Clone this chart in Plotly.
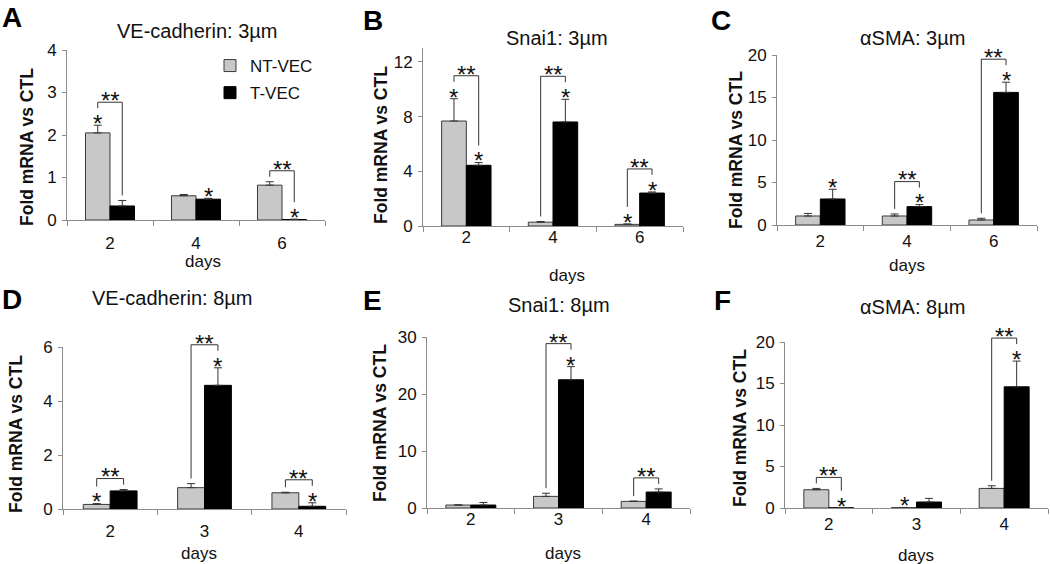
import plotly.graph_objects as go

W, H = 1050, 564
FONT = "Liberation Sans, Arial, sans-serif"

# ---------------- data ----------------
series_names = ["NT-VEC", "T-VEC"]
days_3um = ["2", "4", "6"]
days_8um = ["2", "3", "4"]

# A: VE-cadherin 3um
vecad3_nt = [2.05, 0.57, 0.82]
vecad3_nt_err = [0.18, 0.03, 0.08]
vecad3_t = [0.33, 0.49, 0.01]
vecad3_t_err = [0.13, 0.02, 0.01]
vecad3_star_nt = [1, 0, 0]
vecad3_star_t = [0, 1, 1]
vecad3_pair = [1, 0, 1]

# B: Snai1 3um
snai3_nt = [7.68, 0.28, 0.12]
snai3_nt_err = [1.63, 0.05, 0.03]
snai3_t = [4.44, 7.61, 2.41]
snai3_t_err = [0.20, 1.66, 0.08]
snai3_star_nt = [1, 0, 1]
snai3_star_t = [1, 1, 1]
snai3_pair = [1, 1, 1]

# C: aSMA 3um
asma3_nt = [1.06, 1.06, 0.59]
asma3_nt_err = [0.30, 0.24, 0.20]
asma3_t = [3.06, 2.16, 15.6]
asma3_t_err = [1.14, 0.24, 1.2]
asma3_star_nt = [0, 0, 0]
asma3_star_t = [1, 1, 1]
asma3_pair = [0, 1, 1]

# D: VE-cadherin 8um
vecad8_nt = [0.17, 0.79, 0.60]
vecad8_nt_err = [0.03, 0.15, 0.02]
vecad8_t = [0.67, 4.58, 0.10]
vecad8_t_err = [0.05, 0.65, 0.13]
vecad8_star_nt = [1, 0, 0]
vecad8_star_t = [0, 1, 1]
vecad8_pair = [1, 1, 1]

# E: Snai1 8um
snai8_nt = [0.52, 2.04, 1.16]
snai8_nt_err = [0.03, 0.55, 0.05]
snai8_t = [0.52, 22.5, 2.8]
snai8_t_err = [0.45, 2.3, 0.55]
snai8_star_nt = [0, 0, 0]
snai8_star_t = [0, 1, 0]
snai8_pair = [0, 1, 1]

# F: aSMA 8um
asma8_nt = [2.2, 0.05, 2.36]
asma8_nt_err = [0.16, 0.02, 0.32]
asma8_t = [0.02, 0.72, 14.6]
asma8_t_err = [0.01, 0.44, 3.1]
asma8_star_nt = [0, 1, 0]
asma8_star_t = [1, 0, 1]
asma8_pair = [1, 0, 1]

# ---------------- panel layout (pixels) ----------------
panels = [
    dict(label="A", title="VE-cadherin: 3µm", cats=days_3um,
         nt=vecad3_nt, nte=vecad3_nt_err, t=vecad3_t, te=vecad3_t_err,
         snt=vecad3_star_nt, st=vecad3_star_t, pair=vecad3_pair,
         xpx=(67, 325), y0=220, ytop=50, ymax=4, dtick=1, tlo=8,
         title_xy=(197, 31), label_xy=(12, 0), ytitle_xy=(27, 147), days_xy=(203, 261)),
    dict(label="B", title="Snai1: 3µm", cats=days_3um,
         nt=snai3_nt, nte=snai3_nt_err, t=snai3_t, te=snai3_t_err,
         snt=snai3_star_nt, st=snai3_star_t, pair=snai3_pair,
         xpx=(423, 683), y0=226, ytop=48.3, ymax=13, dtick=4, tlo=-4,
         title_xy=(557, 38), label_xy=(373, 3), ytitle_xy=(381, 145), days_xy=(567, 275)),
    dict(label="C", title="αSMA: 3µm", cats=days_3um,
         nt=asma3_nt, nte=asma3_nt_err, t=asma3_t, te=asma3_t_err,
         snt=asma3_star_nt, st=asma3_star_t, pair=asma3_pair,
         xpx=(777, 1037), y0=225, ytop=55, ymax=20, dtick=5, tlo=1,
         title_xy=(912, 38), label_xy=(721, 3), ytitle_xy=(736, 150), days_xy=(907, 265)),
    dict(label="D", title="VE-cadherin: 8µm", cats=days_8um,
         nt=vecad8_nt, nte=vecad8_nt_err, t=vecad8_t, te=vecad8_t_err,
         snt=vecad8_star_nt, st=vecad8_star_t, pair=vecad8_pair,
         xpx=(63, 346), y0=509, ytop=347, ymax=6, dtick=2, tlo=7,
         title_xy=(172, 298), label_xy=(12, 282), ytitle_xy=(16, 434), days_xy=(199, 553)),
    dict(label="E", title="Snai1: 8µm", cats=days_8um,
         nt=snai8_nt, nte=snai8_nt_err, t=snai8_t, te=snai8_t_err,
         snt=snai8_star_nt, st=snai8_star_t, pair=snai8_pair,
         xpx=(427, 690), y0=508, ytop=337, ymax=30, dtick=10, tlo=-4,
         title_xy=(559, 305), label_xy=(372, 283), ytitle_xy=(380, 423), days_xy=(563, 553)),
    dict(label="F", title="αSMA: 8µm", cats=days_8um,
         nt=asma8_nt, nte=asma8_nt_err, t=asma8_t, te=asma8_t_err,
         snt=asma8_star_nt, st=asma8_star_t, pair=asma8_pair,
         xpx=(785, 1048), y0=508, ytop=342, ymax=20, dtick=5, tlo=1,
         title_xy=(912, 307), label_xy=(722, 283), ytitle_xy=(740, 428), days_xy=(916, 555)),
]

GRAY = "#c8c8c8"
BLACK = "#000000"
AXIS = "#8c8c8c"
LINE = "#333333"
BARGAP = 0.43
W_BAR = (1 - BARGAP) / 2
STAR_SIZE = 24
STAR_GLYPH_OFF = 0.662 * STAR_SIZE + 1  # glyph bottom above annotation box bottom

fig = go.Figure()
shapes = []
annotations = []
layout_axes = {}


def px_x(p):
    return p / W


def px_y(p):
    return 1 - p / H


for i, p in enumerate(panels):
    n = i + 1
    xs = "x" if n == 1 else f"x{n}"
    ys = "y" if n == 1 else f"y{n}"
    xa = "xaxis" if n == 1 else f"xaxis{n}"
    ya = "yaxis" if n == 1 else f"yaxis{n}"
    ncat = len(p["cats"])
    xpos = list(range(ncat))

    fig.add_trace(go.Bar(
        x=xpos, y=p["nt"], name=series_names[0], xaxis=xs, yaxis=ys,
        marker=dict(color=GRAY, line=dict(color="#3a3a3a", width=1)),
        error_y=dict(type="data", array=p["nte"], arrayminus=[0] * ncat,
                     symmetric=False, color=LINE, thickness=1, width=4),
        showlegend=(i == 0), legendgroup="nt", offsetgroup="nt"))
    fig.add_trace(go.Bar(
        x=xpos, y=p["t"], name=series_names[1], xaxis=xs, yaxis=ys,
        marker=dict(color=BLACK, line=dict(color=BLACK, width=1)),
        error_y=dict(type="data", array=p["te"], arrayminus=[0] * ncat,
                     symmetric=False, color=LINE, thickness=1, width=4),
        showlegend=(i == 0), legendgroup="t", offsetgroup="t"))

    x0p, x1p = p["xpx"]
    y_range_top = p["ymax"]
    ppu = (p["y0"] - p["ytop"]) / y_range_top  # pixels per data unit

    # data -> paper conversion (so markers above the axis top are not clipped)
    def dx2paper(xv, x0p=x0p, x1p=x1p, ncat=ncat):
        return (x0p + (xv + 0.5) / ncat * (x1p - x0p)) / W

    def dy2paper(yv, y0=p["y0"], ppu=ppu):
        return 1 - (y0 - yv * ppu) / H

    layout_axes[xa] = dict(
        domain=[px_x(x0p), px_x(x1p)], anchor=ys, range=[-0.5, ncat - 0.5],
        tickvals=xpos, ticktext=p["cats"], ticks="", showgrid=False, zeroline=False,
        showline=True, linecolor=AXIS, linewidth=1, automargin=False,
        tickfont=dict(family=FONT, size=17, color="#111"),
        ticklabelstandoff=p["tlo"],
        minor=dict(tickvals=[k - 0.5 for k in range(ncat + 1)], ticks="outside",
                   ticklen=5, tickcolor=AXIS, showgrid=False),
        fixedrange=True)
    layout_axes[ya] = dict(
        domain=[px_y(p["y0"]), px_y(p["ytop"])], anchor=xs, range=[0, y_range_top],
        dtick=p["dtick"], tick0=0, ticks="outside", ticklen=4, tickcolor=AXIS,
        showgrid=False, zeroline=False, showline=True, linecolor=AXIS, linewidth=1,
        automargin=False,
        tickfont=dict(family=FONT, size=17, color="#111"), ticklabelstandoff=2,
        fixedrange=True)

    # significance markers, derived from bar tops
    for j in range(ncat):
        xl = xpos[j] - W_BAR / 2
        xr = xpos[j] + W_BAR / 2
        e_nt = p["nt"][j] + p["nte"][j]
        e_t = p["t"][j] + p["te"][j]
        for xc, e, s in ((xl, e_nt, p["snt"][j]), (xr, e_t, p["st"][j])):
            if s:
                annotations.append(dict(
                    x=dx2paper(xc), y=dy2paper(e + 3 / ppu), xref="paper", yref="paper",
                    text="*", showarrow=False,
                    yanchor="bottom", xanchor="center", yshift=-STAR_GLYPH_OFF,
                    font=dict(family=FONT, size=STAR_SIZE, color="#111")))
        if p["pair"][j]:
            leg_nt = e_nt + (17 if p["snt"][j] else 5) / ppu
            leg_t = e_t + (17 if p["st"][j] else 5) / ppu
            hy = max(leg_nt, leg_t) + 6 / ppu
            pl, pr = dx2paper(xl), dx2paper(xr)
            shapes.append(dict(
                type="path", xref="paper", yref="paper",
                path=(f"M {pl} {dy2paper(leg_nt)} L {pl} {dy2paper(hy)} "
                      f"L {pr} {dy2paper(hy)} L {pr} {dy2paper(leg_t)}"),
                line=dict(color=LINE, width=1)))
            annotations.append(dict(
                x=(pl + pr) / 2, y=dy2paper(hy + 3 / ppu), xref="paper", yref="paper",
                text="**", showarrow=False, yanchor="bottom", xanchor="center",
                yshift=-STAR_GLYPH_OFF,
                font=dict(family=FONT, size=STAR_SIZE, color="#111")))

    # texts
    tx, ty = p["title_xy"]
    annotations.append(dict(x=px_x(tx), y=px_y(ty), xref="paper", yref="paper",
                            text=p["title"], showarrow=False, xanchor="center",
                            yanchor="middle", font=dict(family=FONT, size=20, color="#111")))
    lx, ly = p["label_xy"]
    annotations.append(dict(x=px_x(lx), y=px_y(ly), xref="paper", yref="paper",
                            text=f"<b>{p['label']}</b>", showarrow=False, xanchor="center",
                            yanchor="top", font=dict(family=FONT, size=28, color="#000")))
    yx, yy = p["ytitle_xy"]
    annotations.append(dict(x=px_x(yx), y=px_y(yy), xref="paper", yref="paper",
                            text="<b>Fold mRNA vs CTL</b>", showarrow=False, textangle=-90,
                            xanchor="center", yanchor="middle",
                            font=dict(family=FONT, size=17.5, color="#111")))
    dx, dy = p["days_xy"]
    annotations.append(dict(x=px_x(dx), y=px_y(dy), xref="paper", yref="paper",
                            text="days", showarrow=False, xanchor="center",
                            yanchor="middle", font=dict(family=FONT, size=17, color="#111")))

fig.update_layout(
    width=W, height=H, margin=dict(l=0, r=0, t=0, b=0, autoexpand=False),
    paper_bgcolor="white", plot_bgcolor="white",
    barmode="group", bargap=BARGAP, bargroupgap=0,
    showlegend=True,
    legend=dict(x=px_x(210), y=px_y(48), xanchor="left", yanchor="top",
                font=dict(family=FONT, size=17, color="#111"),
                bgcolor="rgba(0,0,0,0)", tracegroupgap=2, itemclick=False),
    shapes=shapes, annotations=annotations,
    **layout_axes)

fig.write_html(
    "out.html",
    config={"displayModeBar": False},
    post_script="document.body.style.margin='0px'; document.body.style.overflow='hidden';")
